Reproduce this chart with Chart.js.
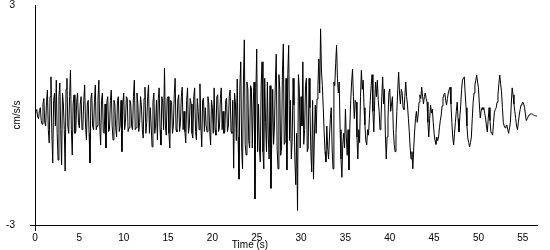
<!DOCTYPE html>
<html><head><meta charset="utf-8">
<script src="https://cdn.jsdelivr.net/npm/chart.js@4.4.0/dist/chart.umd.min.js"></script>
<style>html,body{margin:0;padding:0;background:#fff;}#wrap{width:550px;height:250px;position:relative;}</style>
</head><body><div id="wrap"><canvas id="c" width="550" height="250"></canvas></div>
<script>
// sample spacing of the record, seconds
const sampleStep = 0.2;
// acceleration (cm/s/s) at t = 0, 0.2, 0.4 ...
const accel = [
 0.05,0.15,-0.1,0.2,-0.25, 0.45,-0.3,0.68,-0.76,1.04,
 -1.31,0.6,0.95,-1.23,0.87, -1.36,0.3,-1.53,1.0,-0.5,
 1.22,-1.09,0.55,-0.45,0.6, -0.35,0.5,-0.3,0.82,-0.68,
 0.4,-1.31,0.6,-0.4,0.82, -0.3,0.95,-0.82,0.6,-0.5,
 -0.9,0.5,-0.4,0.68,-0.68, 0.3,-0.6,0.5,-0.3,-1.0,
 0.6,-0.2,0.45,-0.35,0.3, -0.4,0.95,-0.35,0.3,-0.2,
 0.25,-0.63,0.76,-0.2,0.82, 0.2,-0.87,0.6,-0.3,-0.68,
 0.74,-0.82,0.35,1.28,-0.55, 0.5,-0.9,0.35,-0.3,1.0,
 -0.46,0.55,-0.2,0.76,0.1, -0.76,0.74,-0.3,0.3,-0.63,
 0.74,-0.68,0.1,0.85,-0.87, 0.46,0.2,-0.46,0.3,-0.82,
 0.2,0.74,-0.55,0.55,-0.33, 0.74,0.1,-0.46,0.46,-0.3,
 0.68,-0.5,-1.45,0.3,0.98, -1.75,1.45,-1.47,2.05,-1.09,
 0.71,-0.9,0.71,0.3,-2.29, 1.8,0.3,-1.28,1.45,-1.47,
 -0.2,0.9,-1.2,-2.0,0.7, -0.3,1.66,-1.47,0.7,-0.9,
 1.94,-0.75,-1.5,1.9,0.4, -0.65,0.27,-1.9,-2.6,0.71,
 0.5,1.45,-0.4,1.0,-0.9, 0.2,-1.55,-1.75,0.27,0.44,
 1.53,2.35,0.8,-0.46,-1.28, -0.9,-0.6,0.2,-1.47,0.8,
 1.9,0.6,-0.4,-1.7,-0.5, 0.16,-1.1,-1.5,0.4,1.25,
 -0.1,0.35,-1.2,-0.75,1.22, 0.95,-0.27,-0.82,-0.55,0.4,
 1.1,-0.46,0.9,0.95,0.1, -0.2,1.04,0.71,-1.2,-0.1,
 0.71,0.3,-0.4,-1.0,0.1, 1.17,0.3,0.6,0.15,0.9,
 0.27,-0.46,-1.2,-1.47,-0.46, 0.1,0.0,0.55,0.76,0.3,
 0.6,0.35,-0.6,0.27,0.16, -0.5,-0.8,-0.7,-0.35,0.0,
 0.46,0.6,0.27,0.6,0.76, -0.2,-0.82,-0.2,0.35,-0.46,
 0.27,0.95,1.04,0.2,-0.63, -0.87,-0.6,0.35,0.82,1.09,
 0.74,-0.08,0.2,0.2,-0.08, -0.46,0.2,-0.46,-0.55,0.08,
 0.2,0.55,1.09,0.63,-0.2, -0.35,-0.27,-0.5,-0.2,0.74,
 0.3,-0.1,-0.4,0.0,0.27, 0.35,0.2,-0.15,-0.05,0.02,
 0.03,0.0,-0.02,-0.03
];
// acceleration read at the half steps t = 0.1, 0.3, 0.5 ... (the dense core of the trace)
const accelHalf = [
 0.1,-0.05,0.12,-0.15,0.3, -0.2,0.35,-0.4,0.5,-0.5,
 0.4,-0.3,-0.5,0.5,-0.4, 0.6,-0.4,0.7,-0.3,0.5,
 -0.4,0.3,-0.5,0.35,-0.2, 0.3,-0.4,0.4,-0.3,0.3,
 -0.5,0.45,-0.3,0.35,-0.4, 0.4,-0.3,0.4,-0.45,0.3,
 0.35,-0.45,0.4,-0.3,0.4, -0.35,0.4,-0.45,0.4,0.3,
 -0.4,0.5,-0.45,0.4,-0.3, 0.5,-0.4,0.6,-0.45,0.5,
 -0.4,0.45,-0.5,0.5,-0.5, -0.3,0.35,-0.5,0.4,0.45,
 -0.4,0.5,-0.4,-0.3,0.45, -0.5,0.4,-0.5,0.55,-0.4,
 0.4,-0.45,0.5,-0.4,-0.45, 0.4,-0.5,0.45,-0.5,0.5,
 -0.45,0.45,-0.4,-0.3,0.4, -0.45,-0.3,0.5,-0.45,0.4,
 -0.5,-0.4,0.5,-0.45,0.45, -0.4,-0.5,0.4,-0.45,0.5,
 -0.45,0.4,0.6,-0.7,-0.6, 0.8,-0.9,0.9,-0.8,0.9,
 -0.7,0.8,-0.9,0.9,0.6, -1.0,-0.9,0.8,-1.0,1.0,
 -1.0,-0.6,0.8,-0.6,-0.8, 0.9,-0.9,1.1,-1.1,1.2,
 -0.8,1.0,1.1,-0.7,-1.2, 1.0,-1.2,-0.5,1.1,-0.9,
 -0.3,-0.8,0.8,-1.0,1.0, -1.0,0.4,-0.6,-0.5,0.8,
 0.6,1.2,0.2,-1.0,-0.3, -1.2,-0.1,-0.9,0.9,1.4,
 1.0,0.9,-1.2,-0.8,-0.9, -0.6,-0.4,-0.3,0.9,0.5,
 0.4,-0.6,-0.4,0.5,0.7, 0.2,-0.7,-0.4,-0.1,0.8,
 0.1,0.4,0.5,0.4,-0.4, 0.5,0.3,-0.5,-0.6,0.6,
 0.1,0.5,-0.8,-0.5,0.7, 0.6,0.7,0.2,0.5,0.5,
 -0.1,-0.9,-1.0,-0.9,-0.1, -0.2,0.35,0.45,0.5,0.5,
 0.45,-0.2,-0.1,0.05,-0.2, -0.7,-0.6,-0.6,-0.15,0.25,
 0.55,0.4,0.45,0.7,0.3, -0.6,-0.5,0.1,-0.1,-0.05,
 0.7,1.0,0.6,-0.3,-0.75, -0.75,-0.1,0.6,0.95,0.9,
 0.3,0.1,0.15,0.05,-0.3, -0.1,-0.15,-0.5,-0.2,0.15,
 0.35,0.85,0.85,0.2,-0.3, -0.3,-0.4,-0.35,0.3,0.55,
 0.1,-0.3,-0.2,0.15,0.3, 0.3,0.0,-0.1,0.0,0.03,
 0.02,-0.01,-0.03
];
const xTickValues = [0,5,10,15,20,25,30,35,40,45,50,55];
const yTickValues = [-3,3];
const xMax = 56.6;
const yMin = -3, yMax = 3;
const xTitle = 'Time (s)';
const yTitle = 'cm/s/s';

const points = [];
accel.forEach((v,i)=>{
  points.push({x: Math.round(i*sampleStep*100)/100, y: v});
  if (i < accelHalf.length) points.push({x: Math.round((i+0.5)*sampleStep*100)/100, y: accelHalf[i]});
});
const FONT = 'Liberation Sans';

const extras = {
  id:'extras',
  afterDraw(chart){
    const {ctx, chartArea:a} = chart;
    ctx.save();
    ctx.strokeStyle='#000'; ctx.lineWidth=1;
    ctx.beginPath();
    ctx.moveTo(a.left+0.5, a.bottom); ctx.lineTo(a.left+0.5, a.bottom+6);
    ctx.moveTo(a.left-5, a.bottom+0.5); ctx.lineTo(a.left, a.bottom+0.5);
    ctx.stroke();
    ctx.fillStyle='#000';
    ctx.font = '10px "'+FONT+'"';
    ctx.textAlign='center'; ctx.textBaseline='top';
    ctx.fillText(xTitle, 250, 240);
    ctx.translate(17, 115); ctx.rotate(-Math.PI/2);
    ctx.textBaseline='middle';
    ctx.fillText(yTitle, 0, 0);
    ctx.restore();
  }
};

new Chart(document.getElementById('c'), {
  type:'line',
  data:{datasets:[{data:points, borderColor:'#000', borderWidth:1, pointRadius:0, tension:0, fill:false}]},
  options:{
    responsive:false, animation:false,
    layout:{padding:{top:5,right:13,left:0,bottom:0}},
    plugins:{legend:{display:false}, tooltip:{enabled:false}},
    scales:{
      x:{type:'linear', min:0, max:xMax,
        grid:{display:false, drawTicks:false},
        border:{display:true, color:'#000', width:1},
        afterBuildTicks:s=>{s.ticks = xTickValues.map(v=>({value:v}));},
        ticks:{color:'#000', font:{family:FONT, size:10}, padding:7, maxRotation:0, autoSkip:false},
        afterFit:s=>{s.height=25; s.paddingLeft=0; s.paddingRight=0;}
      },
      y:{type:'linear', min:yMin, max:yMax,
        grid:{display:false, drawTicks:false},
        border:{display:true, color:'#000', width:1},
        afterBuildTicks:s=>{s.ticks = yTickValues.map(v=>({value:v}));},
        ticks:{color:'#000', font:{family:FONT, size:10}, padding:20, autoSkip:false},
        afterFit:s=>{s.width=35; s.paddingTop=0; s.paddingBottom=0;}
      }
    }
  },
  plugins:[extras]
});
</script></body></html>
